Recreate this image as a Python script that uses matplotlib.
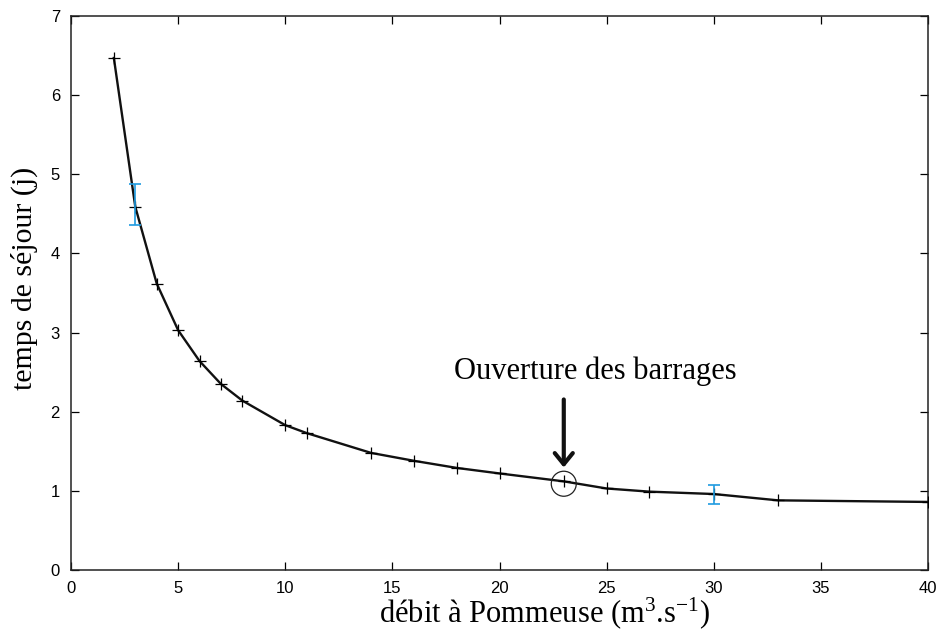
import matplotlib
matplotlib.use("Agg")
import matplotlib.pyplot as plt
from matplotlib.patches import Ellipse

debit = [2, 3, 4, 5, 6, 7, 8, 10, 11, 14, 16, 18, 20, 23, 25, 27, 30, 33, 40]
temps = [6.47, 4.59, 3.62, 3.03, 2.64, 2.35, 2.14, 1.83, 1.73, 1.48, 1.38, 1.29,
         1.22, 1.12, 1.03, 0.99, 0.96, 0.88, 0.86]

err_x = [3, 30]
err_y = [4.62, 0.955]
err_e = [0.26, 0.125]

xticks = [0, 5, 10, 15, 20, 25, 30, 35, 40]
yticks = [0, 1, 2, 3, 4, 5, 6, 7]

annot_x = 23
annot_y = 1.09
annot_text = "Ouverture des barrages"

plt.rcParams["mathtext.fontset"] = "custom"
plt.rcParams["mathtext.rm"] = "Liberation Serif"
plt.rcParams["mathtext.it"] = "Liberation Serif:italic"

serif = ["Liberation Serif", "DejaVu Serif"]
sans = ["Liberation Sans Narrow", "Liberation Sans", "DejaVu Sans"]

fig = plt.figure(figsize=(9.4, 6.3), dpi=100)
ax = fig.add_axes([71/940, 1-570/630, (928-71)/940, (570-16)/630])

ax.plot(debit, temps, color="#111111", lw=1.7, marker="+", ms=8, mew=0.9,
        mec="black", zorder=3)
ax.errorbar(err_x, err_y, yerr=err_e, fmt="none", ecolor="#1f9be0",
            elinewidth=1.2, capsize=4, capthick=1.2, zorder=4)

ax.set_xlim(0, 40)
ax.set_ylim(0, 7)
ax.set_xticks(xticks)
ax.set_yticks(yticks)
ax.tick_params(direction="in", length=6, width=0.9, top=True, right=True,
               labelsize=12)
ax.tick_params(axis="x", pad=8)
ax.tick_params(axis="y", pad=8)
for lab in ax.get_xticklabels() + ax.get_yticklabels():
    lab.set_family(sans)
for sp in ax.spines.values():
    sp.set_linewidth(1.1)
    sp.set_color("#222222")

ax.set_xlabel("débit à Pommeuse (m$^{3}$.s$^{-1}$)", family=serif, fontsize=22)
ax.xaxis.set_label_coords(0.552, -0.046)
ax.xaxis.label.set_va("top")
ax.set_ylabel("temps de séjour (j)", family=serif, fontsize=21.5)
ax.yaxis.set_label_coords(-0.0385, 0.527)

# circle around annotated point (radius ~12.5 px)
ell = Ellipse((annot_x, annot_y), width=25/21.43, height=25/79.1, fill=False,
              ec="#222222", lw=0.9, zorder=5)
ax.add_patch(ell)

ax.annotate("", xy=(annot_x, annot_y + 0.17), xytext=(annot_x, 2.19),
            arrowprops=dict(arrowstyle="->,head_length=0.8,head_width=0.65",
                            lw=3.0, color="#111111"))
ax.text(24.45, 2.33, annot_text, family=serif, fontsize=22,
        ha="center", va="bottom")

fig.savefig("out.png", dpi=100)
